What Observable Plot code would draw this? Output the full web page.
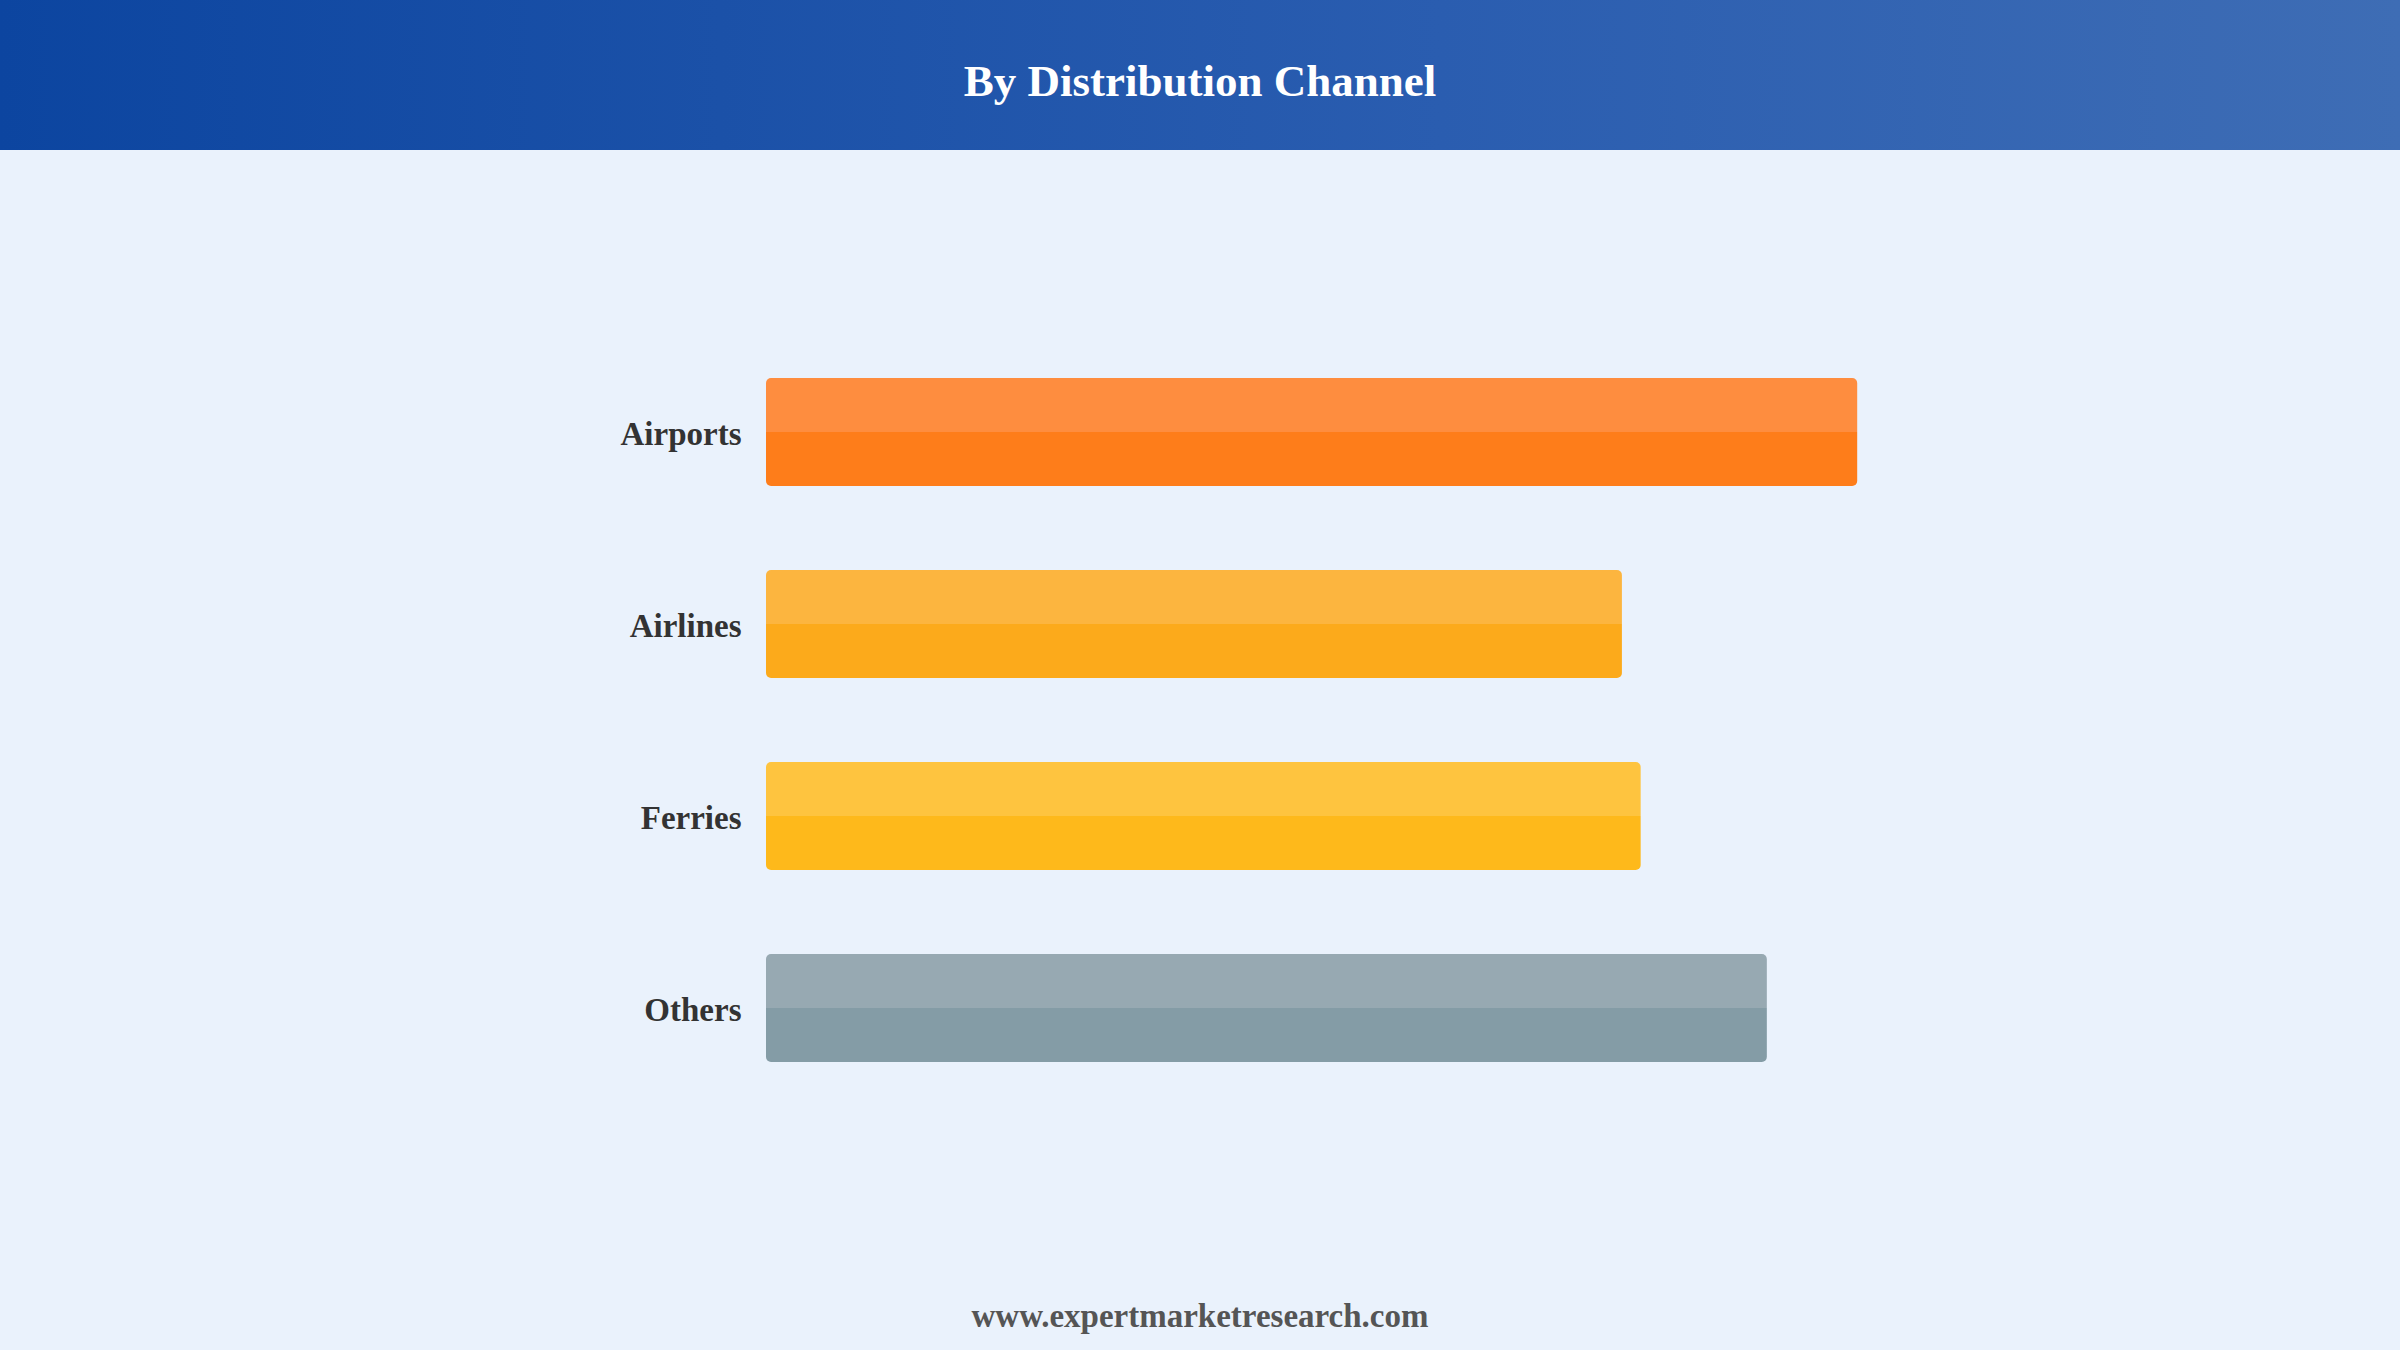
<!DOCTYPE html>
<html>
<head>
<meta charset="utf-8">
<script src="https://cdn.jsdelivr.net/npm/d3@7"></script>
<script src="https://cdn.jsdelivr.net/npm/@observablehq/plot@0.6"></script>
<style>
  html, body { margin: 0; padding: 0; }
  body { width: 2400px; height: 1350px; background: #eaf2fc; position: relative; overflow: hidden;
         font-family: "Liberation Serif", "Times New Roman", serif; }
  #header { position: absolute; left: 0; top: 0; width: 2400px; height: 150px;
            background: linear-gradient(90deg, #0c45a0 0%, #2a5db0 60%, #3e6db5 100%); }
  #title { position: absolute; left: 0; width: 2400px; top: 59px; line-height: 45px; text-align: center;
           color: #ffffff; font-weight: bold; font-size: 45px; }
  #chart { position: absolute; left: 0; top: 150px; }
  #footer { position: absolute; left: 0; width: 2400px; top: 1300px; line-height: 33px; text-align: center;
            color: #555555; font-weight: bold; font-size: 33px; }
</style>
</head>
<body>
<div id="header"><div id="title">By Distribution Channel</div></div>
<div id="chart"></div>
<div id="footer">www.expertmarketresearch.com</div>
<script>
const categories = ["Airports", "Airlines", "Ferries", "Others"];
const values = [32.0, 25.1, 25.65, 29.35];
const lightColors = ["#fe8d3f", "#fcb53f", "#fec43f", "#97a9b2"];
const darkColors = ["#fe7d1a", "#fcaa1b", "#feb91b", "#849ca6"];

const data = categories.map((c, i) => ({category: c, value: values[i]}));

const plot = Plot.plot({
  width: 2400,
  height: 1100,
  marginLeft: 766,
  marginRight: 270,
  marginTop: 143.5,
  marginBottom: 104,
  style: {background: "transparent", fontFamily: "'Liberation Serif', 'Times New Roman', serif"},
  x: {domain: [0, 40], axis: null},
  y: {domain: categories, padding: 0.44, label: null, tickSize: 0, tickPadding: 25},
  marks: [
    Plot.barX(data, {x: "value", y: "category", fill: "#888", rx: 5}),
    Plot.axisY ? Plot.axisY({tickSize: 0, tickPadding: 25, fontSize: 33, fontWeight: "bold", fill: "#333333", label: null, dy: 2}) : null
  ].filter(Boolean)
});

const svg = d3.select(plot);
const defs = svg.insert("defs", ":first-child");
categories.forEach((c, i) => {
  const g = defs.append("linearGradient").attr("id", "grad" + i)
    .attr("x1", 0).attr("y1", 0).attr("x2", 0).attr("y2", 1);
  g.append("stop").attr("offset", "0%").attr("stop-color", lightColors[i]);
  g.append("stop").attr("offset", "50%").attr("stop-color", lightColors[i]);
  g.append("stop").attr("offset", "50%").attr("stop-color", darkColors[i]);
  g.append("stop").attr("offset", "100%").attr("stop-color", darkColors[i]);
});
svg.selectAll('g[aria-label="bar"] rect').each(function(d, i) {
  d3.select(this).attr("fill", "url(#grad" + i + ")");
});
svg.selectAll('g[aria-label="y-axis tick label"] text, g[aria-label="y-axis"] text')
  .attr("font-size", 33).attr("font-weight", "bold").attr("fill", "#333333");

document.getElementById("chart").appendChild(plot);
</script>
</body>
</html>
